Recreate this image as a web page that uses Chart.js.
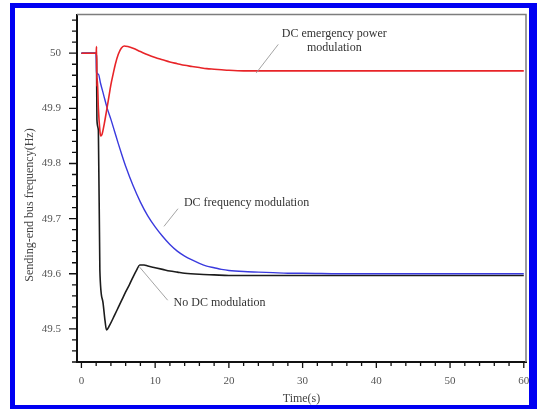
<!DOCTYPE html>
<html><head><meta charset="utf-8">
<script src="https://cdn.jsdelivr.net/npm/chart.js@4.4.1/dist/chart.umd.min.js"></script>
<style>html,body{margin:0;padding:0;background:#fff;overflow:hidden}#wrap{width:537px;height:409px;position:relative}</style>
</head><body><div id="wrap"><canvas id="c" width="537" height="409"></canvas></div>
<script>
// ---- data ----
const xTicks = [0, 10, 20, 30, 40, 50, 60];
const xTickLabels = ['0', '10', '20', '30', '40', '50', '60'];
const yTicks = [49.5, 49.6, 49.7, 49.8, 49.9, 50];
const yTickLabels = ['49.5', '49.6', '49.7', '49.8', '49.9', '50'];

const redT = [0, 2.0, 2.05, 2.1, 2.15, 2.3, 2.5, 2.6, 2.8, 3.1, 3.4, 3.7, 4.0, 4.3, 4.6, 5.0, 5.4, 5.8, 6.3, 7, 8, 9, 10, 11, 12, 13, 14, 15, 16, 17, 18, 19, 20, 22, 25, 30, 40, 50, 60];
const redF = [50, 50, 50.012, 49.94, 49.955, 49.9, 49.86, 49.85, 49.853, 49.872, 49.895, 49.919, 49.943, 49.962, 49.98, 49.998, 50.009, 50.013, 50.012, 50.009, 50.003, 49.997, 49.992, 49.988, 49.984, 49.981, 49.978, 49.976, 49.974, 49.972, 49.971, 49.970, 49.969, 49.968, 49.968, 49.968, 49.968, 49.968, 49.968];

const blueT = [0, 2.0, 2.05, 2.3, 2.6, 3.0, 3.5, 4.0, 4.5, 5.0, 5.5, 6.0, 7.0, 8.0, 9.0, 10, 11, 12, 13, 14, 15, 16, 17, 18, 19, 20, 22, 24, 26, 28, 30, 35, 40, 50, 60];
const blueF = [50, 50, 49.965, 49.962, 49.945, 49.925, 49.9, 49.88, 49.858, 49.836, 49.815, 49.795, 49.76, 49.73, 49.705, 49.685, 49.668, 49.653, 49.641, 49.632, 49.625, 49.619, 49.614, 49.611, 49.608, 49.606, 49.604, 49.603, 49.602, 49.601, 49.601, 49.6, 49.6, 49.6, 49.6];

const blackT = [0, 2.0, 2.05, 2.1, 2.3, 2.5, 2.9, 3.2, 3.4, 3.8, 4.5, 5.0, 5.5, 6.0, 6.5, 7.0, 7.5, 7.9, 8.5, 9, 10, 11, 12, 13, 14, 16, 18, 20, 25, 30, 40, 50, 60];
const blackF = [50, 50, 49.99, 49.88, 49.86, 49.607, 49.55, 49.515, 49.498, 49.506, 49.525, 49.539, 49.553, 49.567, 49.58, 49.594, 49.607, 49.616, 49.616, 49.614, 49.611, 49.608, 49.605, 49.603, 49.601, 49.599, 49.598, 49.597, 49.597, 49.597, 49.597, 49.597, 49.597];

const seriesNames = ['DC emergency power modulation', 'DC frequency modulation', 'No DC modulation'];

// annotations (data coordinates)
const notes = [
  {lines: ['DC emergency power', 'modulation'], x: 34.3, y: 50.036, align: 'center', lead: [[26.7, 50.016], [23.7, 49.964]]},
  {lines: ['DC frequency modulation'], x: 13.9, y: 49.729, align: 'left', lead: [[13.1, 49.718], [11.2, 49.686]]},
  {lines: ['No DC modulation'], x: 12.5, y: 49.547, align: 'left', lead: [[7.9, 49.612], [11.7, 49.552]]}
];

const pts = (t, f) => t.map((v, i) => ({x: v, y: f[i]}));
const SERIF = "'Liberation Serif', 'DejaVu Serif', serif";
Chart.defaults.font.family = SERIF;

const deco = {
  id: 'deco',
  beforeDraw(chart) {
    const ctx = chart.ctx;
    ctx.save();
    ctx.fillStyle = '#fff';
    ctx.fillRect(0, 0, chart.width, chart.height);
    ctx.fillStyle = '#0000f2';
    ctx.beginPath();
    ctx.rect(10, 3, 527, 406);
    ctx.rect(15, 8, 514, 397);
    ctx.fill('evenodd');
    ctx.restore();
  },
  afterDatasetsDraw(chart) {
    const ctx = chart.ctx, xs = chart.scales.x, ys = chart.scales.y;
    ctx.save();
    ctx.font = '12px ' + SERIF;
    ctx.fillStyle = '#333';
    ctx.textBaseline = 'middle';
    notes.forEach(n => {
      ctx.strokeStyle = '#9a9a9a';
      ctx.lineWidth = 0.9;
      ctx.beginPath();
      ctx.moveTo(xs.getPixelForValue(n.lead[0][0]), ys.getPixelForValue(n.lead[0][1]));
      ctx.lineTo(xs.getPixelForValue(n.lead[1][0]), ys.getPixelForValue(n.lead[1][1]));
      ctx.stroke();
      ctx.textAlign = n.align;
      const px = xs.getPixelForValue(n.x), py = ys.getPixelForValue(n.y);
      n.lines.forEach((l, i) => ctx.fillText(l, px, py + i * 14));
    });
    ctx.restore();
  },
  afterDraw(chart) {
    const ctx = chart.ctx, a = chart.chartArea, xs = chart.scales.x, ys = chart.scales.y;
    ctx.save();
    // gray top/right frame
    ctx.strokeStyle = '#7d7d7d';
    ctx.lineWidth = 1.5;
    ctx.beginPath();
    ctx.moveTo(a.left, a.top); ctx.lineTo(a.right, a.top); ctx.lineTo(a.right, a.bottom);
    ctx.stroke();
    // ticks
    ctx.strokeStyle = '#111';
    ctx.lineWidth = 1.3;
    ctx.beginPath();
    for (let k = 0; k <= 30; k++) {
      const v = k * 2;
      const px = xs.getPixelForValue(v);
      const len = (v % 10 === 0) ? 6 : 4;
      ctx.moveTo(px, a.bottom); ctx.lineTo(px, a.bottom + len);
    }
    for (let k = 0; k <= 31; k++) {
      const v = 49.44 + k * 0.02;
      const py = ys.getPixelForValue(v);
      const major = Math.abs(Math.round(v * 10) / 10 - v) < 1e-6;
      const len = major ? 8 : 5;
      ctx.moveTo(a.left, py); ctx.lineTo(a.left - len, py);
    }
    ctx.stroke();
    // y axis title
    ctx.translate(30, 205);
    ctx.rotate(-Math.PI / 2);
    ctx.font = '12px ' + SERIF;
    ctx.fillStyle = '#444';
    ctx.textAlign = 'center';
    ctx.textBaseline = 'middle';
    ctx.fillText('Sending-end bus frequency(Hz)', 0, 0);
    ctx.restore();
  }
};

new Chart(document.getElementById('c'), {
  type: 'line',
  data: {
    datasets: [
      {label: seriesNames[0], data: pts(redT, redF), borderColor: 'rgb(232,36,40)', borderWidth: 1.6},
      {label: seriesNames[1], data: pts(blueT, blueF), borderColor: 'rgb(58,58,222)', borderWidth: 1.4},
      {label: seriesNames[2], data: pts(blackT, blackF), borderColor: 'rgb(28,28,28)', borderWidth: 1.6}
    ]
  },
  options: {
    responsive: false,
    animation: false,
    parsing: false,
    elements: {point: {radius: 0}, line: {tension: 0.3, cubicInterpolationMode: 'monotone', fill: false}},
    layout: {padding: {left: 0, top: 5, right: 11, bottom: 0}},
    plugins: {legend: {display: false}, tooltip: {enabled: false}},
    scales: {
      x: {
        type: 'linear', min: -0.6, max: 60.3,
        afterBuildTicks: s => { s.ticks = xTicks.map(v => ({value: v})); },
        afterFit: s => { s.height = 47; },
        ticks: {callback: (v, i) => xTickLabels[i], color: '#555', font: {size: 11}, padding: 5, maxRotation: 0, autoSkip: false},
        grid: {display: false},
        border: {display: true, color: '#111', width: 2},
        title: {display: true, text: 'Time(s)', color: '#444', font: {size: 12}, padding: {top: 0, bottom: 3}}
      },
      y: {
        type: 'linear', min: 49.44, max: 50.07,
        afterBuildTicks: s => { s.ticks = yTicks.map(v => ({value: v})); },
        afterFit: s => { s.width = 77; },
        ticks: {callback: (v, i) => yTickLabels[i], color: '#555', font: {size: 11}, padding: 8, autoSkip: false},
        grid: {display: false},
        border: {display: true, color: '#111', width: 2}
      }
    }
  },
  plugins: [deco]
});
</script>
</body></html>
